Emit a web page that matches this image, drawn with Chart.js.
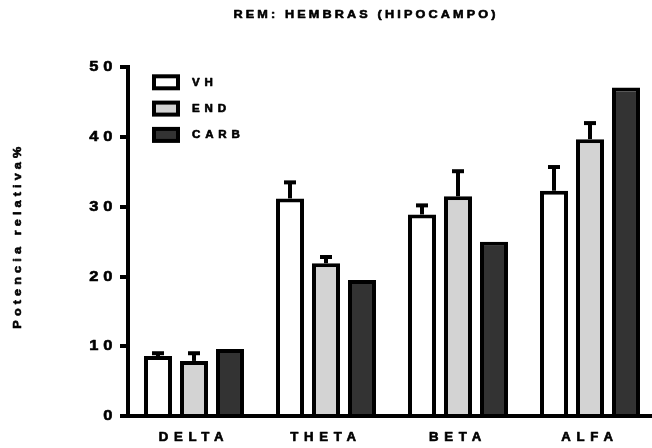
<!DOCTYPE html>
<html>
<head>
<meta charset="utf-8">
<script src="https://cdn.jsdelivr.net/npm/chart.js@4/dist/chart.umd.min.js"></script>
<style>
  html, body { margin: 0; padding: 0; background: #fff; overflow: hidden; }
  #wrap { width: 660px; height: 448px; }
</style>
</head>
<body>
<div id="wrap"><canvas id="chart" width="660" height="448"></canvas></div>
<script>
// Relative power (%) per EEG band, REM sleep, females, hippocampus
const bands = ['DELTA', 'THETA', 'BETA', 'ALFA'];
const seriesNames = ['VH', 'END', 'CARB'];
const vhMean = [8.6, 31.2, 28.9, 32.3];
const vhSem = [0.4, 2.3, 1.3, 3.4];
const endMean = [7.9, 21.9, 31.5, 39.7];
const endSem = [1.1, 0.9, 3.6, 2.3];
const carbMean = [9.6, 19.5, 25.0, 47.1];
const yTickValues = [0, 10, 20, 30, 40, 50];

const FONT = '"Liberation Sans", Arial, Helvetica, sans-serif';
const TEXT_STRETCH = 1.1;   // wide lettering
const TEXT_WEIGHT = 0.6;    // extra outline for heavier text

const canvas = document.getElementById('chart');
const ctx = canvas.getContext('2d');

// Draw all text slightly widened along its own direction, and heavier
const baseFillText = ctx.fillText;
ctx.fillText = function (text, x, y, maxWidth) {
  this.save();
  this.translate(x, y);
  this.scale(TEXT_STRETCH, 1);
  if (maxWidth === undefined) baseFillText.call(this, text, 0, 0);
  else baseFillText.call(this, text, 0, 0, maxWidth / TEXT_STRETCH);
  this.strokeStyle = this.fillStyle;
  this.lineWidth = TEXT_WEIGHT;
  this.lineJoin = 'round';
  this.setLineDash([]);
  if (maxWidth === undefined) this.strokeText(text, 0, 0);
  else this.strokeText(text, 0, 0, maxWidth / TEXT_STRETCH);
  this.restore();
};

// Run a draw method with a given letter spacing and offset
function withSpacing(obj, method, px, dx = 0, dy = 0) {
  if (!obj || obj['_spaced_' + method]) return;
  const orig = obj[method];
  obj[method] = function (...args) {
    const c = this.ctx;
    c.save();
    c.translate(dx, dy);
    c.letterSpacing = px + 'px';
    try { return orig.apply(this, args); } finally { c.restore(); }
  };
  obj['_spaced_' + method] = true;
}

const spacingPlugin = {
  id: 'spacing',
  afterUpdate(chart) {
    withSpacing(chart.scales.x, 'drawLabels', 5.2);
    withSpacing(chart.scales.y, 'drawLabels', 4.5);
    withSpacing(chart.scales.y, 'drawTitle', 3.75, 0, -6);
    withSpacing(chart.titleBlock, 'draw', 2.86, 38, 0);
  }
};

// Upward error bars (mean + SEM) for the series that have them
const semBySeries = [vhSem, endSem, null];
const errorBarPlugin = {
  id: 'errorBars',
  afterDatasetsDraw(chart) {
    const c = chart.ctx;
    const yScale = chart.scales.y;
    c.save();
    c.strokeStyle = '#000';
    c.lineWidth = 4;
    c.lineCap = 'butt';
    chart.data.datasets.forEach((ds, di) => {
      const sem = semBySeries[di];
      if (!sem) return;
      chart.getDatasetMeta(di).data.forEach((bar, i) => {
        const yTop = yScale.getPixelForValue(ds.data[i]);
        const yErr = yScale.getPixelForValue(ds.data[i] + sem[i]);
        c.beginPath();
        c.moveTo(bar.x, yTop);
        c.lineTo(bar.x, yErr);
        c.stroke();
        c.beginPath();
        c.moveTo(bar.x - 6, yErr);
        c.lineTo(bar.x + 6, yErr);
        c.stroke();
      });
    });
    c.restore();
  }
};

// Boxed legend in the upper-left of the plot area
const boxLegendPlugin = {
  id: 'boxLegend',
  afterDraw(chart) {
    const c = chart.ctx;
    const area = chart.chartArea;
    const x0 = area.left + 24;
    const y0 = area.top + 15;
    c.save();
    chart.data.datasets.forEach((ds, i) => {
      const cy = y0 + i * 26.3;
      c.fillStyle = '#000';
      c.fillRect(x0, cy - 8, 28, 16);
      c.fillStyle = ds.backgroundColor;
      c.fillRect(x0 + 4, cy - 4, 20, 8);
      c.fillStyle = '#000';
      c.font = 'bold 10.5px ' + FONT;
      c.letterSpacing = '4.4px';
      c.textAlign = 'left';
      c.textBaseline = 'middle';
      c.fillText(ds.label, x0 + 40, cy + 0.5);
    });
    c.restore();
  }
};

const fills = ['#ffffff', '#d3d3d3', '#333333'];
const means = [vhMean, endMean, carbMean];

new Chart(ctx, {
  type: 'bar',
  data: {
    labels: bands,
    datasets: seriesNames.map((name, k) => ({
      label: name,
      data: means[k],
      backgroundColor: fills[k],
      borderColor: '#000',
      borderWidth: 4,
      borderSkipped: 'start',
      categoryPercentage: 0.818,
      barPercentage: 0.778
    }))
  },
  options: {
    responsive: false,
    animation: false,
    events: [],
    layout: { padding: { left: 0, right: 4, top: 0, bottom: 0 } },
    plugins: {
      legend: { display: false },
      tooltip: { enabled: false },
      title: {
        display: true,
        text: 'REM: HEMBRAS (HIPOCAMPO)',
        color: '#000',
        font: { family: FONT, size: 11.5, weight: 'bold', lineHeight: 1.2 },
        padding: { top: 8.1, bottom: 45.4 }
      }
    },
    scales: {
      x: {
        grid: { display: false, drawTicks: false },
        border: { display: true, color: '#000', width: 4 },
        ticks: {
          color: '#000',
          font: { family: FONT, size: 12, weight: 'bold', lineHeight: 1.2 },
          padding: 14.3,
          maxRotation: 0,
          autoSkip: false
        },
        afterFit(scale) { scale.height = 32; }
      },
      y: {
        min: 0,
        max: 50,
        afterBuildTicks(scale) { scale.ticks = yTickValues.map(v => ({ value: v })); },
        grid: { display: true, drawOnChartArea: false, drawTicks: true, tickLength: 8, lineWidth: 4, color: '#000' },
        border: { display: true, color: '#000', width: 4 },
        ticks: {
          color: '#000',
          font: { family: FONT, size: 15, weight: 'bold', lineHeight: 1.2 },
          padding: 2.5
        },
        title: {
          display: true,
          text: 'Potencia relativa%',
          color: '#000',
          font: { family: FONT, size: 11.5, weight: 'bold', lineHeight: 1.2 },
          padding: { top: 11.1, bottom: 0 }
        },
        afterFit(scale) { scale.width = 128; }
      }
    }
  },
  plugins: [spacingPlugin, errorBarPlugin, boxLegendPlugin]
});
</script>
</body>
</html>
